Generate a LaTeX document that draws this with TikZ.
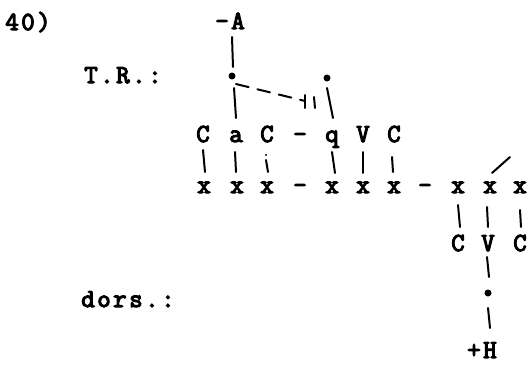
\documentclass[tikz,border=0pt]{standalone}
\usepackage{fontspec}
\newfontfamily\tw[LetterSpace=10,FakeBold=4.5]{Latin Modern Mono}
\begin{document}
\begin{tikzpicture}[x=1pt,y=-1pt,
  lab/.style={inner sep=0pt,anchor=base,font=\tw\fontsize{26}{29}\selectfont},
  ln/.style={line width=2pt,line cap=round},
  dotn/.style={circle,fill=black,inner sep=0pt,minimum size=7pt}]
\useasboundingbox (0,0) rectangle (530,367);
% labels
\node[lab] (num) at (28,30) {40)};
\node[lab] (tr) at (123,83) {T.R.:};
\node[lab] (dors) at (128,307) {dors.:};
\node[lab] (mA) at (230,29) {-A};
\node[lab] (pH) at (482,358) {+H};
% dots
\node[dotn] (d1) at (232,76) {};
\node[dotn] (d2) at (327,78) {};
\node[dotn] (d3) at (488,293) {};
% upper melody row
\node[lab] (c1) at (203,142) {C};
\node[lab] (a1) at (236,142) {a};
\node[lab] (c2) at (267,142) {C};
\node[lab] (h1) at (300,142) {-};
\node[lab] (q1) at (332,142) {q};
\node[lab] (v1) at (363,142) {V};
\node[lab] (c3) at (394,142) {C};
% skeleton row
\node[lab] (x1) at (204,193) {x};
\node[lab] (x2) at (237,193) {x};
\node[lab] (x3) at (267,193) {x};
\node[lab] (h2) at (300,193) {-};
\node[lab] (x4) at (332,193) {x};
\node[lab] (x5) at (363,193) {x};
\node[lab] (x6) at (394,193) {x};
\node[lab] (h3) at (425,193) {-};
\node[lab] (x7) at (458,193) {x};
\node[lab] (x8) at (490,193) {x};
\node[lab] (x9) at (520,193) {x};
% lower melody row
\node[lab] (c4) at (458,251) {C};
\node[lab] (v2) at (488,251) {V};
\node[lab] (c5) at (520,251) {C};
% tonal lines
\draw[ln] (232,37) -- (233,67);
\draw[ln] (234,88) -- (236,118);
\draw[ln] (327,88) -- (333,118);
\draw[ln,dashed,dash pattern=on 13pt off 9pt] (d1) ++(4,8) -- (305,101) coordinate (bar1);
\draw[ln] (305,95) -- (305,108);
\draw[ln] (314,97) -- (315,108);
% association lines
\draw[ln] (203,150) -- (205,172);
\draw[ln] (235,152) -- (236,172);
\draw[ln] (266,160) -- (268,172);
\fill (266,155) circle (1.1pt);
\draw[ln] (332,152) -- (335,173);
\draw[ln] (363,152) -- (363,173);
\draw[ln] (392,157) -- (393,172);
\draw[ln] (492,173) -- (510,157);
\draw[ln] (458,205) -- (460,227);
\draw[ln] (487,207) -- (488,227);
\draw[ln] (520,210) -- (521,227);
\draw[ln] (487,257) -- (489,277);
\draw[ln] (488,308) -- (490,328);
\end{tikzpicture}
\end{document}
